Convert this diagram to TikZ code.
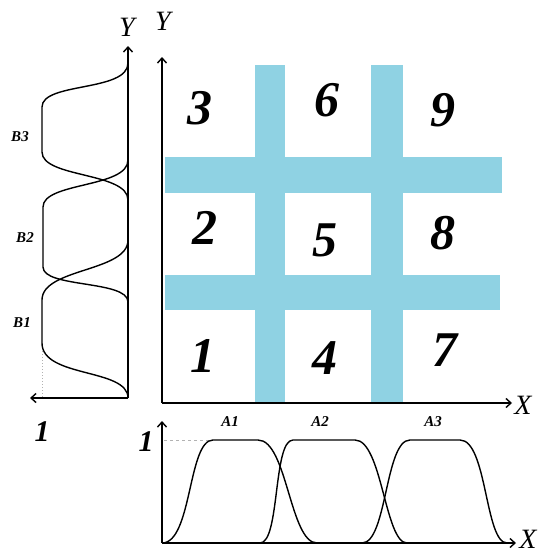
\documentclass[tikz,border=0pt]{standalone}
\usepackage{fontspec}
\setmainfont{Liberation Serif}
\usetikzlibrary{arrows.meta}
\definecolor{barblue}{RGB}{143,210,227}
\begin{document}
\begin{tikzpicture}[x=1pt,y=-1pt,
  ax/.style={line width=1.4pt,-{Straight Barb[length=5pt,width=9pt]}},
  mf/.style={line width=1.4pt},
  bar/.style={fill=barblue,draw=none},
  big/.style={font=\fontsize{50}{50}\selectfont\bfseries\itshape},
  axl/.style={font=\fontsize{28}{28}\selectfont\itshape},
  one/.style={font=\fontsize{30}{30}\selectfont\bfseries\itshape},
  sl/.style={font=\fontsize{15}{15}\selectfont\bfseries\itshape},
  guide/.style={gray!60,line width=1pt}]
\useasboundingbox (0,0) rectangle (541,554);
% blue bars
\fill[bar] (255,65) rectangle (285,403);
\fill[bar] (371,65) rectangle (403,403);
\fill[bar] (165,157) rectangle (502,193);
\fill[bar] (165,275) rectangle (500,310);
% main axes
\coordinate (O) at (162,403);
\coordinate (Ytip) at (162,57);
\coordinate (Xtip) at (512,403);
\draw[ax] (O) -- (Ytip);
\draw[ax] (O) -- (Xtip);
\node[axl] (Ylab) at (163,21) {Y};
\node[axl] (Xlab) at (523,405) {X};
% numbers
\node[big] (n3) at (200,108) {3};
\node[big] (n6) at (327,100) {6};
\node[big] (n9) at (443,110) {9};
\node[big] (n2) at (205,228) {2};
\node[big] (n5) at (325,240) {5};
\node[big] (n8) at (443,233) {8};
\node[big] (n1) at (203,356) {1};
\node[big] (n4) at (325,358) {4};
\node[big] (n7) at (445,350) {7};
% left panel
\coordinate (LO) at (128,398);
\coordinate (LYtip) at (128,46);
\coordinate (LXtip) at (30,398);
\draw[ax] (LO) -- (LYtip);
\draw[ax] (LO) -- (LXtip);
\node[axl] (LYlab) at (127,27) {Y};
\node[one] (Lone) at (42,432) {1};
\coordinate (Ld1) at (42,345);
\coordinate (Ld2) at (42,397);
\draw[guide,dotted] (Ld1) -- (Ld2);
\draw[mf] (128,63) .. controls (128,92) and (42,82) .. (42,107) -- (42,152) .. controls (42,178) and (128,172) .. (128,200);
\draw[mf] (128,160) .. controls (128,188) and (43,182) .. (43,207) -- (43,267) .. controls (43,288) and (128,280) .. (128,302);
\draw[mf] (128,240) .. controls (128,272) and (42,268) .. (42,300) -- (42,343) .. controls (42,378) and (128,368) .. (128,398);
\node[sl] (B3) at (20,137) {B3};
\node[sl] (B2) at (25,238) {B2};
\node[sl] (B1) at (22,323) {B1};
% bottom panel
\coordinate (BO) at (162,543);
\coordinate (BYtip) at (162,421);
\coordinate (BXtip) at (516,543);
\draw[ax] (BO) -- (BYtip);
\draw[ax] (BO) -- (BXtip);
\node[axl,inner sep=1pt] (BXlab) at (528,539) {X};
\node[one] (Bone) at (146,442) {1};
\coordinate (Bd1) at (164,440);
\coordinate (Bd2) at (213,440);
\draw[guide,dashed] (Bd1) -- (Bd2);
\draw[mf] (162,543) .. controls (192,543) and (188,440) .. (213,440) -- (258,440) .. controls (287,440) and (290,543) .. (317,543);
\draw[mf] (260,543) .. controls (280,543) and (273,440) .. (293,440) -- (355,440) .. controls (382,440) and (385,543) .. (407,543);
\draw[mf] (362,543) .. controls (387,543) and (385,440) .. (410,440) -- (460,440) .. controls (487,440) and (485,543) .. (507,543);
\node[sl] (A1) at (230,422) {A1};
\node[sl] (A2) at (320,422) {A2};
\node[sl] (A3) at (433,422) {A3};
\end{tikzpicture}
\end{document}
